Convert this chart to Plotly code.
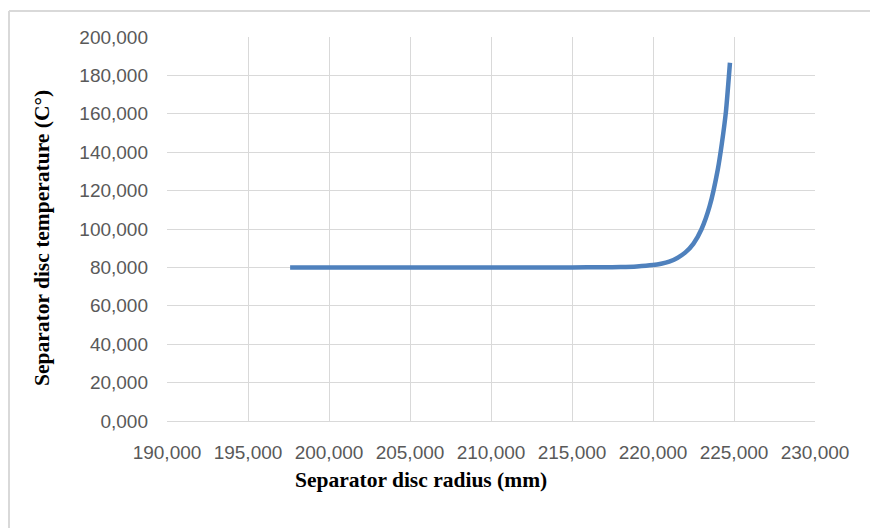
import plotly.graph_objects as go

# Data
radius_mm = [197.6, 200.0, 205.0, 210.0, 215.0, 217.0, 218.0, 219.0, 220.0,
             220.5, 221.0, 221.5, 222.0, 222.5, 223.0, 223.5, 224.0,
             224.25, 224.5, 224.75]
temperature_c = [80.0, 80.0, 80.0, 80.0, 80.0, 80.1, 80.2, 80.5, 81.2,
                 81.9, 83.0, 84.9, 87.8, 92.4, 100.0, 112.0, 131.0,
                 144.5, 161.0, 186.6]

x_ticks = [190, 195, 200, 205, 210, 215, 220, 225, 230]
x_tick_labels = ["190,000", "195,000", "200,000", "205,000", "210,000",
                 "215,000", "220,000", "225,000", "230,000"]
y_ticks = [0, 20, 40, 60, 80, 100, 120, 140, 160, 180, 200]
y_tick_labels = ["0,000", "20,000", "40,000", "60,000", "80,000", "100,000",
                 "120,000", "140,000", "160,000", "180,000", "200,000"]

x_title = "Separator disc radius (mm)"
y_title = "Separator disc temperature (C°)"

W, H = 870, 528
L, R, T, B = 167, 55, 37, 107
pw, ph = W - L - R, H - T - B

def px_x(p):
    return (p - L) / pw

def px_y(p):
    return (H - B - p) / ph

fig = go.Figure()
fig.add_trace(go.Scatter(
    x=radius_mm, y=temperature_c, mode="lines",
    line=dict(color="#4f81bd", width=4.5, shape="spline", smoothing=0.6),
    showlegend=False, hoverinfo="x+y",
))

tick_font = dict(family="Liberation Sans, Arial, sans-serif", size=19, color="#595959")
title_font = dict(family="Liberation Serif, Times New Roman, serif", size=21.5, color="#000000")

fig.update_layout(
    width=W, height=H,
    margin=dict(l=L, r=R, t=T, b=B),
    paper_bgcolor="white", plot_bgcolor="white",
    xaxis=dict(
        range=[190, 230], tickvals=x_ticks, ticktext=x_tick_labels,
        showgrid=True, gridcolor="#d9d9d9", gridwidth=1,
        zeroline=False, showline=True, linecolor="#d9d9d9", linewidth=1,
        ticks="", tickfont=tick_font, ticklabelstandoff=14, mirror=False,
    ),
    yaxis=dict(
        range=[0, 200], tickvals=y_ticks, ticktext=y_tick_labels,
        showgrid=True, gridcolor="#d9d9d9", gridwidth=1,
        zeroline=False, showline=False,
        ticks="", tickfont=tick_font, ticklabelstandoff=18,
    ),
    shapes=[
        dict(type="line", xref="paper", yref="paper",
             x0=px_x(9), x1=px_x(875), y0=px_y(11), y1=px_y(11),
             line=dict(color="#d9d9d9", width=2)),
        dict(type="line", xref="paper", yref="paper",
             x0=px_x(9), x1=px_x(9), y0=px_y(11), y1=px_y(540),
             line=dict(color="#d9d9d9", width=2)),
    ],
    annotations=[
        dict(text="<b>" + x_title + "</b>", xref="paper", yref="paper",
             x=px_x(421), y=px_y(480), xanchor="center", yanchor="middle",
             showarrow=False, font=title_font),
        dict(text="<b>" + y_title + "</b>", xref="paper", yref="paper",
             x=px_x(42), y=px_y(238), xanchor="center", yanchor="middle",
             textangle=-90, showarrow=False, font=title_font),
    ],
)

fig.write_html("out.html",
               config={"displayModeBar": False},
               post_script="document.body.style.margin='0';document.body.style.overflow='hidden';")
